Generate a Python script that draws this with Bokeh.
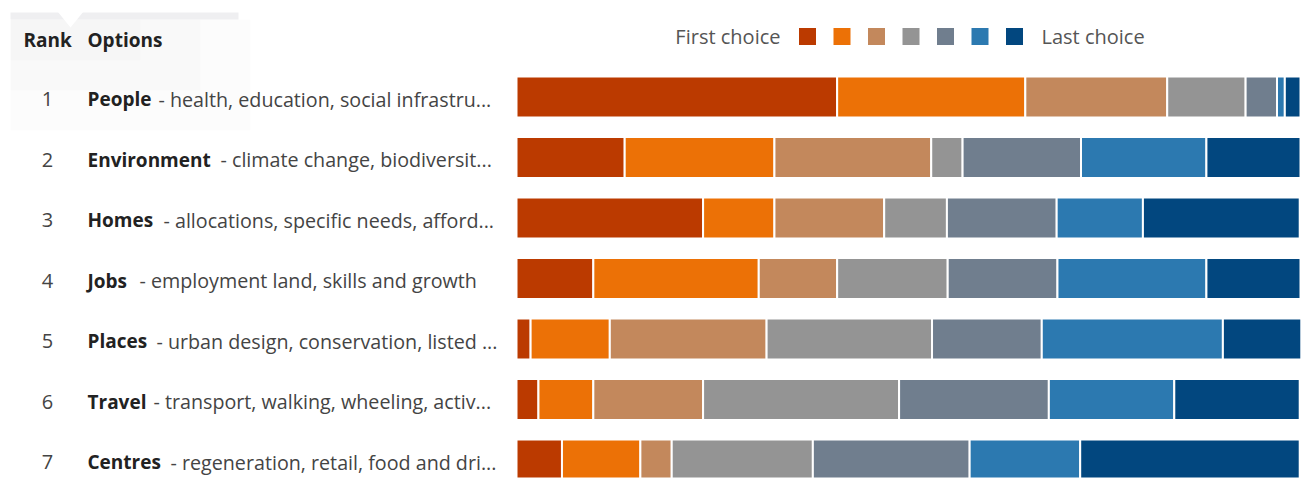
from bokeh.plotting import figure
from bokeh.models import Range1d, ColumnDataSource
from bokeh.core.properties import value
from bokeh.embed import file_html
from bokeh.resources import INLINE

# ---- data ----
ranks = [1, 2, 3, 4, 5, 6, 7]
names = ["People", "Environment", "Homes", "Jobs", "Places", "Travel", "Centres"]
descs = ["- health, education, social infrastru...",
         "- climate change, biodiversit...",
         "- allocations, specific needs, afford...",
         "- employment land, skills and growth",
         "- urban design, conservation, listed ...",
         "- transport, walking, wheeling, activ...",
         "- regeneration, retail, food and dri..."]
choice1 = [40.9, 13.8, 23.8, 9.8, 1.8, 2.8, 5.8]
choice2 = [24.0, 19.1, 9.1, 21.1, 10.1, 7.0, 10.0]
choice3 = [18.1, 20.0, 14.0, 10.0, 20.0, 14.0, 4.0]
choice4 = [10.0, 4.0, 8.0, 14.1, 21.1, 25.0, 18.0]
choice5 = [4.0, 15.1, 14.0, 14.0, 14.0, 19.1, 20.0]
choice6 = [1.0, 16.0, 11.0, 19.0, 23.1, 16.0, 14.1]
choice7 = [2.0, 12.0, 20.0, 12.0, 10.0, 16.0, 28.0]
series = ["c1", "c2", "c3", "c4", "c5", "c6", "c7"]
colors = ["#BB3A00", "#EC7106", "#C3885C", "#949494", "#707E8E", "#2C79B0", "#02477F"]
legend_first = "First choice"
legend_last = "Last choice"

W, H = 1306, 478
PX0, PXS = 516.0, 7.84       # pixel of 0%, pixels per 1%
PY0, PYS = 96.5, 60.5        # pixel of row 1 centre, pixels per row

def dx(px):
    return (px - PX0) / PXS

def dy(py):
    return 1 + (py - PY0) / PYS

p = figure(width=W, height=H, output_backend="svg", toolbar_location=None,
           x_range=Range1d(dx(0), dx(W)), y_range=Range1d(dy(H), dy(0)),
           min_border=0, min_border_left=0, min_border_right=0,
           min_border_top=0, min_border_bottom=0)
p.axis.visible = False
p.grid.visible = False
p.outline_line_color = None
p.background_fill_color = "white"
p.border_fill_color = "white"

# very faint card shadow at top-left
p.quad(left=[dx(10)], right=[dx(238)], top=[dy(12)], bottom=[dy(19)],
       fill_color="#e4e4e8", fill_alpha=0.6, line_color=None)
for (x2, y2, a) in [(250, 130, 0.12), (200, 90, 0.12), (140, 60, 0.12)]:
    p.quad(left=[dx(10)], right=[dx(x2)], top=[dy(19)], bottom=[dy(y2)],
           fill_color="#e4e4e8", fill_alpha=a, line_color=None)
p.patch(x=[dx(57), dx(83), dx(70)], y=[dy(11), dy(11), dy(27)], fill_color="white",
        line_color=None)

src = ColumnDataSource(dict(y=ranks, c1=choice1, c2=choice2, c3=choice3, c4=choice4,
                            c5=choice5, c6=choice6, c7=choice7))
p.hbar_stack(series, y="y", height=41 / PYS, color=colors, source=src,
             line_color="white", line_width=2)

FONT = value("Open Sans")
# header
p.text(x=[dx(23)], y=[dy(39)], text=["Rank"], text_font=FONT, text_font_size="19px",
       text_font_style="bold", text_color="#222222", text_baseline="middle")
p.text(x=[dx(87)], y=[dy(39)], text=["Options"], text_font=FONT, text_font_size="19px",
       text_font_style="bold", text_color="#222222", text_baseline="middle")

# rows
p.text(x=[dx(47)] * len(ranks), y=[r + 2 / PYS for r in ranks], text=[str(r) for r in ranks],
       text_font=FONT, text_font_size="20px", text_color="#444444", text_baseline="middle",
       text_align="center")
p.text(x=[dx(87)] * len(ranks), y=[r + 2 / PYS for r in ranks], text=names, text_font=FONT,
       text_font_size="19px", text_font_style="bold", text_color="#222222",
       text_baseline="middle")
desc_px = [158, 220, 163, 139, 156, 153, 170]
p.text(x=[dx(v) for v in desc_px], y=[r + 2 / PYS for r in ranks], text=descs, text_font=FONT,
       text_font_size="19.7px", text_color="#444444", text_baseline="middle")

# legend
ly = dy(36)
p.text(x=[dx(780)], y=[ly], text=[legend_first], text_font=FONT, text_font_size="20px",
       text_color="#555555", text_baseline="middle", text_align="right")
sq_x = [dx(807 + k * 34.5) for k in range(len(colors))]
p.scatter(x=sq_x, y=[ly] * len(colors), marker="square", size=17, fill_color=colors,
          line_color=None)
p.text(x=[dx(1041)], y=[ly], text=[legend_last], text_font=FONT, text_font_size="20px",
       text_color="#555555", text_baseline="middle")

open("out.html", "w").write(file_html(p, INLINE))
